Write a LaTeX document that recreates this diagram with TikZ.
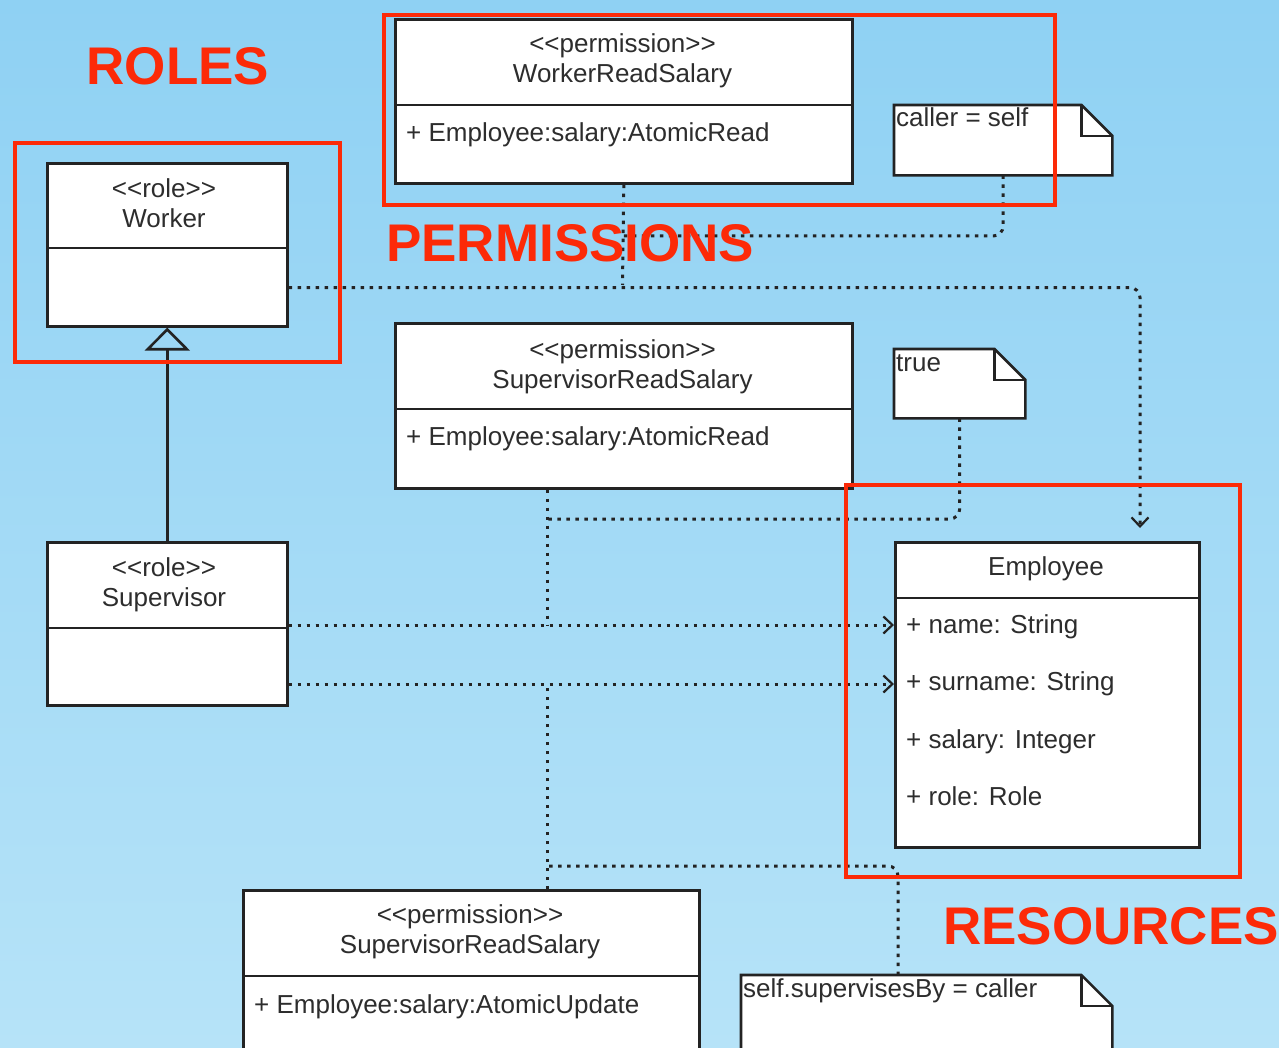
\documentclass[tikz,border=0pt]{standalone}
\usepackage{fontspec}
\setmainfont{Liberation Sans}[Ligatures=TeXOff]
\usetikzlibrary{arrows.meta,calc}
\definecolor{bgtop}{RGB}{143,209,243}
\definecolor{bgbot}{RGB}{182,227,248}
\definecolor{redmark}{RGB}{252,42,8}
\definecolor{umlline}{RGB}{35,35,35}
\definecolor{umltext}{RGB}{45,45,45}
\tikzset{
  classbox/.style={draw=umlline, fill=white, line width=2.6pt, rectangle, inner sep=0pt, anchor=north west},
  notebox/.style={draw=none, rectangle, inner sep=0pt, anchor=north west},
  noteline/.style={draw=umlline, fill=white, line width=2.6pt, line join=miter},
  divider/.style={draw=umlline, line width=2.6pt},
  title/.style={font=\fontsize{26}{30}\selectfont, text=umltext, align=center, inner sep=0pt},
  attr/.style={font=\fontsize{26}{30}\selectfont, text=umltext, inner sep=0pt, anchor=base west},
  notetext/.style={font=\fontsize{26}{28}\selectfont, text=umltext, inner sep=0pt, anchor=base west},
  dep/.style={draw=umlline, line width=3pt, dash pattern=on 3.5pt off 5.5pt, rounded corners=10pt},
  depend/.style={dep, -{Straight Barb[length=9pt,width=17pt,line width=2.2pt]}},
  inherit/.style={draw=umlline, line width=2.6pt, -{Triangle[open,length=23pt,width=45pt]}},
  group/.style={draw=redmark, line width=4.5pt},
  grouplabel/.style={font=\fontsize{53}{60}\selectfont\bfseries, text=redmark, inner sep=0pt},
}
% folded-corner outline for a UML note
\newcommand\drawnote[1]{%
  \filldraw[noteline] (#1.north west) -- ([xshift=-31pt]#1.north east) -- ([yshift=-31pt]#1.north east) -- (#1.south east) -- (#1.south west) -- cycle;
  \draw[noteline, fill=none] ([xshift=-31pt]#1.north east) |- ([yshift=-31pt]#1.north east);
}
\begin{document}
\begin{tikzpicture}[x=1pt,y=-1pt]
\useasboundingbox (0,0) rectangle (1279,1048);
\clip (0,0) rectangle (1279,1048);
\shade[top color=bgtop, bottom color=bgbot] (0,0) rectangle (1279,1048);

% junction points of the dependency lines
\coordinate (wjoin) at (622.5,285);
\coordinate (ajoin) at (622.5,236);
\coordinate (wdrop) at (1140,528);
\coordinate (sjoinA) at (547,625);
\coordinate (sjoinB) at (547,519);
\coordinate (sjoinC) at (547,684);
\coordinate (sjoinD) at (547,866);
\coordinate (cturn) at (898,866);
\coordinate (rowName) at (0,625);
\coordinate (rowSurname) at (0,684);

% classes
\node[classbox, minimum width=457, minimum height=164] (wrs) at (394,18) {};
\draw[divider] (394,105) -- (851,105);
\node[title] (wrsT) at (622.5,61) {<<permission>>\\WorkerReadSalary};
\node[attr] (wrsA) at (406,142) {+ Employee:salary:AtomicRead};

\node[classbox, minimum width=240, minimum height=163] (worker) at (46,162) {};
\draw[divider] (46,248) -- (286,248);
\node[title] (workerT) at (164,203) {<<role>>\\Worker};

\node[classbox, minimum width=457, minimum height=165] (srs) at (394,322) {};
\draw[divider] (394,409) -- (851,409);
\node[title] (srsT) at (622.5,367) {<<permission>>\\SupervisorReadSalary};
\node[attr] (srsA) at (406,445) {+ Employee:salary:AtomicRead};

\node[classbox, minimum width=240, minimum height=163] (supervisor) at (46,541) {};
\draw[divider] (46,628) -- (286,628);
\node[title] (supervisorT) at (164,585) {<<role>>\\Supervisor};

\node[classbox, minimum width=304, minimum height=305] (employee) at (894,541) {};
\draw[divider] (894,598) -- (1198,598);
\node[title] (employeeT) at (1046,569) {Employee};
\node[attr] (attName) at (906,633) {+ name: String};
\node[attr] (attSurname) at (906,690) {+ surname: String};
\node[attr] (attSalary) at (906,748) {+ salary: Integer};
\node[attr] (attRole) at (906,805) {+ role: Role};

\node[classbox, minimum width=456, minimum height=180] (sru) at (242,889) {};
\draw[divider] (242,976) -- (698,976);
\node[title] (sruT) at (470,932) {<<permission>>\\SupervisorReadSalary};
\node[attr] (sruA) at (254,1013) {+ Employee:salary:AtomicUpdate};

% notes
\node[notebox, minimum width=218, minimum height=70] (noteA) at (894,105) {};
\drawnote{noteA}
\node[notetext] (noteAT) at (896,127) {caller = self};

\node[notebox, minimum width=131, minimum height=69] (noteB) at (894,349) {};
\drawnote{noteB}
\node[notetext] (noteBT) at (896,371) {true};

\node[notebox, minimum width=371, minimum height=100] (noteC) at (741,975) {};
\drawnote{noteC}
\node[notetext] (noteCT) at (743,997) {self.supervisesBy = caller};

% dependency connectors
\draw[depend] ([yshift=40pt]worker.south east) -| (wdrop);
\draw[dep] (supervisor.east |- rowName) -- (sjoinA);
\draw[depend] (supervisor.east |- rowName) -- (employee.west |- rowName);
\draw[depend] (supervisor.east |- rowSurname) -- (employee.west |- rowSurname);
\draw[dep] (wrs.south) -- (wjoin);
\draw[dep] (noteA.south) |- (ajoin);
\draw[dep] (srs.south -| sjoinA) -- (sjoinA);
\draw[dep] (noteB.south) |- (sjoinB);
\draw[dep] (sru.north -| sjoinC) -- (sjoinC);
\draw[dep] (noteC.north -| cturn) -- (cturn) -- (sjoinD);

% generalization
\draw[inherit] (supervisor.north) -- (worker.south);

% group frames and labels
\draw[group] (15,143) rectangle (340,362);
\draw[group] (384,15) rectangle (1055,205);
\draw[group] (846,485) rectangle (1240,877);
\node[grouplabel] (lblRoles) at (178,66) {ROLES};
\node[grouplabel, anchor=west] (lblPerm) at (386,243) {PERMISSIONS};
\node[grouplabel, anchor=west] (lblRes) at (943,926) {RESOURCES};
\end{tikzpicture}
\end{document}
